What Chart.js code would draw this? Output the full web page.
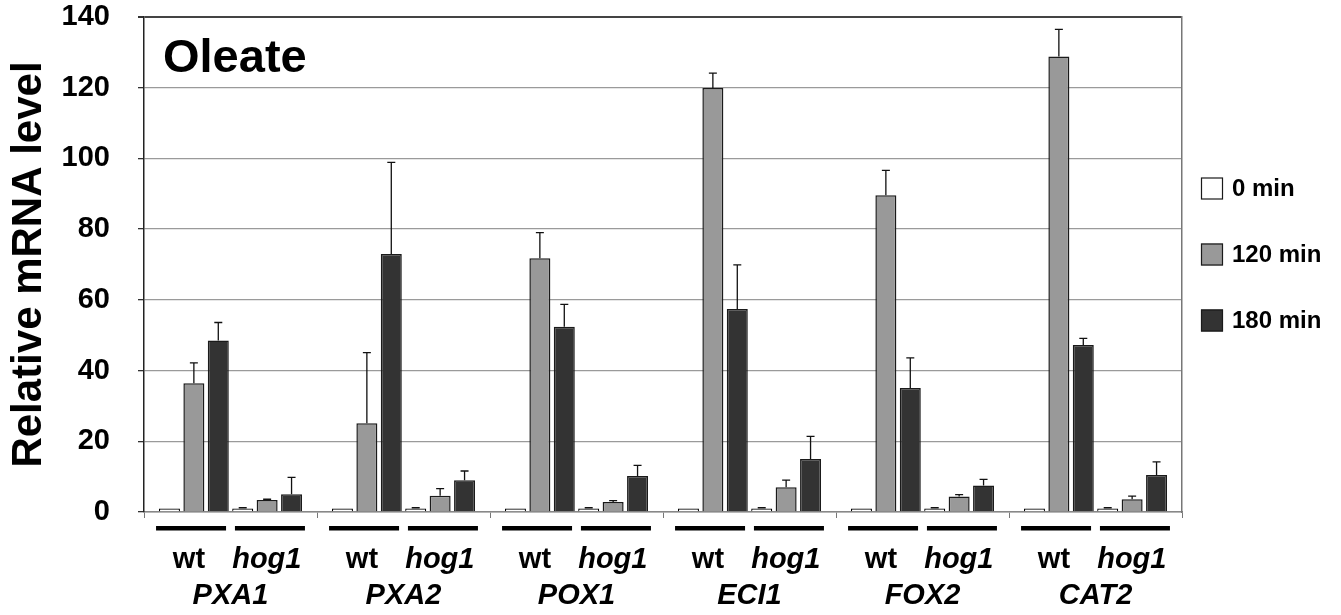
<!DOCTYPE html>
<html>
<head>
<meta charset="utf-8">
<script src="https://cdn.jsdelivr.net/npm/chart.js@4.4.1/dist/chart.umd.min.js"></script>
<style>
  html, body { margin: 0; padding: 0; background: #ffffff; }
  #wrap { width: 1341px; height: 615px; position: relative; }
</style>
</head>
<body>
<div id="wrap"><canvas id="c"></canvas></div>
<script>
// Genes on the x axis; each gene has a wt and a hog1 triplet of time points
const genes = ['PXA1', 'PXA2', 'POX1', 'ECI1', 'FOX2', 'CAT2'];
const strains = ['wt', 'hog1'];
const timeLabels = ['0 min', '120 min', '180 min'];
const yTicks = [0, 20, 40, 60, 80, 100, 120, 140];
const panelTitle = 'Oleate';
const yTitle = 'Relative mRNA level';

// Mean relative mRNA levels and upper error (SD)
const wt0      = [1, 1, 1, 1, 1, 1];
const wt0Err   = [0, 0, 0, 0, 0, 0];
const wt120    = [36.4, 25.1, 71.8, 119.9, 89.6, 128.8];
const wt120Err = [5.8, 20.0, 7.2, 4.2, 7.0, 7.7];
const wt180    = [48.5, 73.0, 52.4, 57.4, 35.1, 47.2];
const wt180Err = [5.1, 25.9, 6.3, 12.5, 8.5, 1.9];
const hog0      = [1, 1, 1, 1, 1, 1];
const hog0Err   = [0.2, 0.2, 0.2, 0.2, 0.2, 0.2];
const hog120    = [3.4, 4.6, 2.8, 7.0, 4.4, 3.6];
const hog120Err = [0.2, 2.0, 0.4, 2.0, 0.5, 0.9];
const hog180    = [5.0, 9.0, 10.2, 15.0, 7.5, 10.5];
const hog180Err = [4.8, 2.6, 3.0, 6.4, 1.7, 3.7];

const fills = ['#ffffff', '#999999', '#333333'];
const FONT = '"Liberation Sans", Arial, Helvetica, sans-serif';

function ds(label, data, err, idx) {
  return {
    label: label,
    data: data,
    errors: err,
    backgroundColor: fills[idx],
    borderColor: idx === 0 ? '#000000' : '#1a1a1a',
    borderWidth: idx === 0 ? 1.2 : 1.5,
    borderSkipped: 'start',
    categoryPercentage: 0.847,
    barPercentage: 0.86
  };
}

const datasets = [
  ds(timeLabels[0], wt0, wt0Err, 0),
  ds(timeLabels[1], wt120, wt120Err, 1),
  ds(timeLabels[2], wt180, wt180Err, 2),
  ds(timeLabels[0], hog0, hog0Err, 0),
  ds(timeLabels[1], hog120, hog120Err, 1),
  ds(timeLabels[2], hog180, hog180Err, 2)
];

// Upper error bars with a short cap
const errorBars = {
  id: 'errorBars',
  afterDatasetsDraw(chart) {
    const ctx = chart.ctx;
    const y = chart.scales.y;
    ctx.save();
    ctx.strokeStyle = '#111111';
    ctx.lineWidth = 1.3;
    chart.data.datasets.forEach((d, di) => {
      const meta = chart.getDatasetMeta(di);
      meta.data.forEach((bar, i) => {
        const e = d.errors[i];
        if (!e) return;
        const yTop = y.getPixelForValue(d.data[i]);
        const yErr = y.getPixelForValue(d.data[i] + e);
        ctx.beginPath();
        ctx.moveTo(bar.x, yTop);
        ctx.lineTo(bar.x, yErr);
        ctx.moveTo(bar.x - 4, yErr);
        ctx.lineTo(bar.x + 4, yErr);
        ctx.stroke();
      });
    });
    ctx.restore();
  }
};

// Strain row under the axis: thick underline plus wt / hog1 label
const strainRow = {
  id: 'strainRow',
  afterDraw(chart) {
    const ctx = chart.ctx;
    const x = chart.scales.x;
    const w = (x.right - x.left) / genes.length;
    const lineY = chart.chartArea.bottom + 16;
    ctx.save();
    genes.forEach((g, i) => {
      const c = x.getPixelForValue(i);
      const lineCenters = [c - 0.228 * w, c + 0.228 * w];
      const textCenters = [c - 0.24 * w, c + 0.21 * w];
      strains.forEach((s, k) => {
        ctx.fillStyle = '#000000';
        ctx.fillRect(lineCenters[k] - 35, lineY - 2, 70, 4.5);
        ctx.font = (k === 1 ? 'italic ' : '') + 'bold 29px ' + FONT;
        ctx.textAlign = 'center';
        ctx.textBaseline = 'alphabetic';
        ctx.fillText(s, textCenters[k], chart.chartArea.bottom + 56);
      });
    });
    ctx.restore();
  }
};

// Panel title inside the plot and the time-point legend on the right
const panelDecor = {
  id: 'panelDecor',
  afterDraw(chart) {
    const ctx = chart.ctx;
    const a = chart.chartArea;
    ctx.save();
    ctx.fillStyle = '#000000';
    ctx.font = 'bold 47px ' + FONT;
    ctx.textAlign = 'left';
    ctx.textBaseline = 'alphabetic';
    ctx.fillText(panelTitle, a.left + 19, a.top + 55);

    const mid = (a.top + a.bottom) / 2 - 10;
    timeLabels.forEach((t, i) => {
      const cy = mid + (i - 1) * 66;
      const bx = a.right + 19;
      ctx.fillStyle = fills[i];
      ctx.fillRect(bx, cy - 11, 22, 22);
      ctx.strokeStyle = '#1a1a1a';
      ctx.lineWidth = 1.2;
      ctx.strokeRect(bx + 0.5, cy - 10.5, 21, 21);
      ctx.fillStyle = '#000000';
      ctx.font = 'bold 24px ' + FONT;
      ctx.textBaseline = 'middle';
      ctx.fillText(t, bx + 31, cy + 1);
    });
    ctx.restore();
  }
};

new Chart(document.getElementById('c'), {
  type: 'bar',
  data: { labels: genes, datasets: datasets },
  plugins: [errorBars, strainRow, panelDecor],
  options: {
    responsive: true,
    maintainAspectRatio: false,
    animation: false,
    layout: { padding: { top: 17, right: 159, left: 0, bottom: 0 } },
    plugins: {
      legend: { display: false },
      tooltip: { enabled: false }
    },
    scales: {
      x: {
        type: 'category',
        offset: true,
        grid: {
          offset: true,
          drawOnChartArea: false,
          drawTicks: true,
          tickLength: 6,
          color: '#777777'
        },
        border: { display: true, color: '#888888', width: 1.5 },
        ticks: {
          color: '#000000',
          padding: 61,
          maxRotation: 0,
          font: { family: FONT, size: 29, weight: 'bold', style: 'italic' }
        },
        afterFit(scale) {
          scale.height = 103;
          scale.paddingLeft = 0;
          scale.paddingRight = 0;
        }
      },
      y: {
        min: 0,
        max: 140,
        afterBuildTicks(scale) { scale.ticks = yTicks.map(v => ({ value: v })); },
        grid: {
          color: (c) => c.tick && c.tick.value === 140 ? '#444444' : '#9a9a9a',
          lineWidth: (c) => c.tick && c.tick.value === 140 ? 2 : 1.3,
          tickColor: '#333333',
          tickLength: 6,
          drawTicks: true
        },
        border: { display: true, color: '#222222', width: 1.5 },
        ticks: {
          color: '#000000',
          padding: 28,
          font: { family: FONT, size: 29, weight: 'bold' }
        },
        title: {
          display: true,
          text: yTitle,
          color: '#000000',
          padding: { top: 4, bottom: 0 },
          font: { family: FONT, size: 42, weight: 'bold' }
        },
        afterFit(scale) {
          scale.width = 144;
          scale.paddingTop = 0;
          scale.paddingBottom = 0;
        }
      },
      y2: {
        position: 'right',
        min: 0,
        max: 140,
        grid: { display: false, drawTicks: false },
        ticks: { display: false },
        border: { display: true, color: '#777777', width: 1.5 },
        afterFit(scale) {
          scale.width = 0;
          scale.paddingTop = 0;
          scale.paddingBottom = 0;
        }
      }
    }
  }
});
</script>
</body>
</html>
